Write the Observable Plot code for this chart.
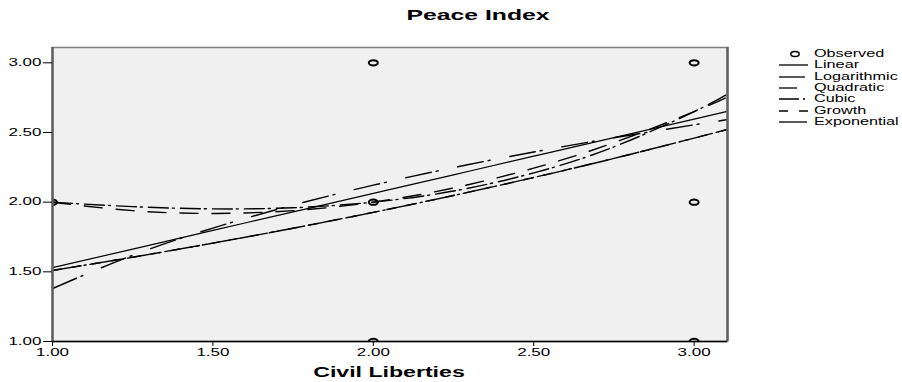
<!DOCTYPE html>
<html>
<head>
<meta charset="utf-8">
<script src="https://cdn.jsdelivr.net/npm/d3@7"></script>
<script src="https://cdn.jsdelivr.net/npm/@observablehq/plot@0.6"></script>
<style>
  body { margin: 0; background: #fff; font-family: "Liberation Sans", Arial, sans-serif; color: #000; }
  #chart { position: relative; width: 902px; height: 382px; overflow: hidden; background: #fff; }
  #chart > svg { position: absolute; left: 0; top: 0; }
  .wide { position: absolute; white-space: nowrap; line-height: 1; }
  .title { font-weight: bold; font-size: 15px; transform: translate(-50%, -50%) scaleX(1.65); }
  .xlabel { font-weight: bold; font-size: 14px; transform: translate(-50%, -50%) scaleX(1.65); }
  .legend-row { position: absolute; left: 0; height: 12px; }
  .legend-row svg { position: absolute; left: 0; top: 0; }
  .legend-row span { position: absolute; left: 36px; top: 6px; font-size: 10px; white-space: nowrap;
    line-height: 1; transform-origin: left center; transform: translateY(-50%) scaleX(1.62); }
</style>
</head>
<body>
<div id="chart"></div>
<script>
// Observed cases: Civil Liberties (x) against Peace Index (y)
const obsX = [1, 2, 2, 2, 3, 3, 3];
const obsY = [2, 3, 2, 1, 3, 2, 1];

// Fitted curves, sampled along Civil Liberties
const fitX        = [1.00, 1.25, 1.50, 1.75, 2.00, 2.25, 2.50, 2.75, 3.00, 3.10];
const linear      = [1.53, 1.663, 1.797, 1.93, 2.063, 2.196, 2.33, 2.463, 2.596, 2.65];
const logarithmic = [1.38, 1.619, 1.814, 1.979, 2.122, 2.248, 2.36, 2.462, 2.555, 2.591];
const quadratic   = [2.00, 1.939, 1.919, 1.939, 2.00, 2.102, 2.244, 2.427, 2.65, 2.751];
const cubic       = [2.00, 1.968, 1.952, 1.96, 2.00, 2.08, 2.21, 2.397, 2.65, 2.77];
const growth      = [1.51, 1.605, 1.706, 1.813, 1.927, 2.048, 2.177, 2.314, 2.46, 2.52];
const exponential = [1.51, 1.605, 1.706, 1.813, 1.927, 2.048, 2.177, 2.314, 2.46, 2.52];

// Axes
const xDomain = [1, 3.104];
const yDomain = [1, 3.11];
const xTicks = [1.0, 1.5, 2.0, 2.5, 3.0];
const yTicks = [1.0, 1.5, 2.0, 2.5, 3.0];

const seriesNames = ["Linear", "Logarithmic", "Quadratic", "Cubic", "Growth", "Exponential"];
const seriesValues = [linear, logarithmic, quadratic, cubic, growth, exponential];
const dashes = {
  Linear: null,
  Logarithmic: "26,5,2,20",
  Quadratic: "18,14",
  Cubic: "20,4,2,6",
  Growth: "9,11",
  Exponential: "28,4,2,4"
};

const observed = obsX.map((x, i) => ({x, y: obsY[i]}));
const fits = seriesNames.map((name, k) => fitX.map((x, i) => ({series: name, x, y: seriesValues[k][i]})));

// Open ellipse marker (the chart is drawn horizontally stretched)
const ellipse = {
  draw(context, size) {
    const r = Math.sqrt(size / Math.PI);
    const rx = r * 1.25, ry = r * 0.75, k = 0.5523;
    context.moveTo(rx, 0);
    context.bezierCurveTo(rx, k * ry, k * rx, ry, 0, ry);
    context.bezierCurveTo(-k * rx, ry, -rx, k * ry, -rx, 0);
    context.bezierCurveTo(-rx, -k * ry, -k * rx, -ry, 0, -ry);
    context.bezierCurveTo(k * rx, -ry, rx, -k * ry, rx, 0);
    context.closePath();
  }
};

const fmt = d3.format(".2f");

const plot = Plot.plot({
  width: 902,
  height: 382,
  marginLeft: 52,
  marginRight: 175,
  marginTop: 47,
  marginBottom: 41,
  style: {fontFamily: "'Liberation Sans', Arial, sans-serif", fontSize: "10px", color: "#000", background: "transparent"},
  x: {domain: xDomain, label: null},
  y: {domain: yDomain, label: null},
  marks: [
    Plot.frame({fill: "#f0f0f0", stroke: "#808080", strokeWidth: 1.5}),
    ...fits.map((data, k) => Plot.line(data, {
      x: "x", y: "y", curve: "natural", stroke: "#000",
      strokeWidth: seriesNames[k] === "Linear" ? 1.2 : 1.4,
      strokeDasharray: dashes[seriesNames[k]], clip: true
    })),
    Plot.dot(observed, {x: "x", y: "y", r: 3.6, symbol: ellipse, stroke: "#000", strokeWidth: 2, fill: "none", clip: true}),
    Plot.ruleX(xDomain, {stroke: "#606060", strokeWidth: 2.5}),
    Plot.ruleY(yDomain.slice(0, 1), {stroke: "#000", strokeWidth: 1.5}),
    Plot.axisX({ticks: xTicks, tickFormat: fmt, tickSize: 5, tickPadding: 2, label: null, stroke: "#000"}),
    Plot.axisY({ticks: yTicks, tickFormat: fmt, tickSize: 9, tickPadding: 2, label: null, stroke: "#000"})
  ]
});

// Widen the tick labels in place, keeping their anchor points
d3.select(plot).selectAll("text").each(function() {
  const t = this.getAttribute("transform") || "";
  this.setAttribute("transform", (t + " scale(1.7,1)").trim());
});

const chart = document.getElementById("chart");
chart.appendChild(plot);

// Title and axis title
const title = document.createElement("div");
title.className = "wide title";
title.style.left = "478px";
title.style.top = "14px";
title.textContent = "Peace Index";
chart.appendChild(title);

const xLabel = document.createElement("div");
xLabel.className = "wide xlabel";
xLabel.style.left = "389px";
xLabel.style.top = "372px";
xLabel.textContent = "Civil Liberties";
chart.appendChild(xLabel);

// Legend
const legend = document.createElement("div");
legend.style.position = "absolute";
legend.style.left = "778px";
legend.style.top = "48px";
chart.appendChild(legend);

const legendItems = ["Observed", ...seriesNames];
legendItems.forEach((name, i) => {
  const row = document.createElement("div");
  row.className = "legend-row";
  row.style.top = (i * 11.35) + "px";
  const svg = d3.create("svg").attr("width", 34).attr("height", 12);
  if (name === "Observed") {
    svg.append("path")
      .attr("transform", "translate(17,6)")
      .attr("d", d3.symbol(ellipse, Math.PI * 11)())
      .attr("fill", "none").attr("stroke", "#000").attr("stroke-width", 1.5);
  } else {
    svg.append("line")
      .attr("x1", 1).attr("x2", 30).attr("y1", 6).attr("y2", 6)
      .attr("stroke", "#000").attr("stroke-width", 1.3)
      .attr("stroke-dasharray", dashes[name]);
  }
  row.appendChild(svg.node());
  const label = document.createElement("span");
  label.textContent = name;
  row.appendChild(label);
  legend.appendChild(row);
});
</script>
</body>
</html>
